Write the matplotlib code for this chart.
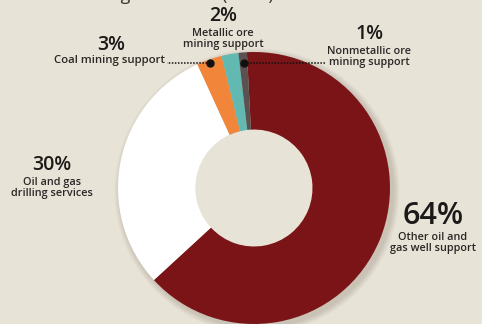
import numpy as np
import matplotlib.pyplot as plt
from matplotlib.patches import Wedge, Circle

# segment shares (%), clockwise from the top
segments = ['Other oil and\ngas well support', 'Oil and gas\ndrilling services',
            'Coal mining support', 'Metallic ore\nmining support',
            'Nonmetallic ore\nmining support']
shares = [64, 30, 3, 2, 1]
pct_labels = ['64%', '30%', '3%', '2%', '1%']
colors = ['#7b1417', '#ffffff', '#f1863a', '#62b9b1', '#5a5150']

bg = '#e8e3d7'
W, H = 482, 324

fig = plt.figure(figsize=(W / 100, H / 100), dpi=100, facecolor=bg)
ax = fig.add_axes([0, 0, 1, 1])
ax.set_facecolor(bg)

cx, cy, R = 254, 136, 136
ring = 0.57

# soft drop shadow behind the ring
for i in range(8):
    ax.add_patch(Wedge((cx + 3, cy - 3), R + 1 + i * 0.8, 0, 360, width=R * ring + 2,
                       color='#7a7060', alpha=0.035, lw=0, zorder=0))
ax.add_patch(Circle((cx, cy), R * (1 - ring), color=bg, lw=0, zorder=0.5))

wedges, _ = ax.pie(shares, colors=colors, startangle=93, counterclock=False,
                   center=(cx, cy), radius=R, frame=True,
                   wedgeprops=dict(width=R * ring, linewidth=0, zorder=1))

ax.set_xlim(0, W)
ax.set_ylim(0, H)
ax.set_aspect('equal')
ax.axis('off')

font = 'Open Sans'
dark = '#1c1a19'

# clipped title at the very top
ax.text(-6, H + 5, 'and services segmentation (2012)', fontsize=13, fontfamily=font,
        color='#3a3633', ha='left', va='center', clip_on=False)


def label(x, y, pct, txt, size=14, tsize=7.8, gap=2):
    ax.text(x, y, pct, fontsize=size, fontfamily=font, fontweight='semibold',
            color=dark, ha='center', va='bottom')
    ax.text(x, y - gap, txt, fontsize=tsize, fontfamily=font, fontweight='semibold',
            color='#2a2725', ha='center', va='top', linespacing=0.95)


label(52, H - 175, pct_labels[1], segments[1])
label(433, H - 231, pct_labels[0], segments[0], size=22, tsize=7.8, gap=1)
label(223, H - 26, pct_labels[3], segments[3])
label(369, H - 44, pct_labels[4], segments[4])
ax.text(111, H - 55, pct_labels[2], fontsize=14, fontfamily=font, fontweight='semibold',
        color=dark, ha='center', va='bottom')
ax.text(110, H - 61, segments[2], fontsize=8.2, fontfamily=font, fontweight='semibold',
        color='#2a2725', ha='center', va='center')

# leader dots on the thin slices
line_y = H - 63
for idx, x_end in [(2, 167), (4, 326)]:
    w = wedges[idx]
    mid = np.deg2rad((w.theta1 + w.theta2) / 2)
    r = (line_y - cy) / np.sin(mid)
    dx = cx + r * np.cos(mid)
    ax.plot([dx, x_end], [line_y, line_y], ls=(0, (1, 1)), lw=1.1, color='#111111', zorder=3)
    ax.plot(dx, line_y, 'o', ms=5, color='#111111', zorder=4)

fig.savefig('out.png', dpi=100, facecolor=bg)
